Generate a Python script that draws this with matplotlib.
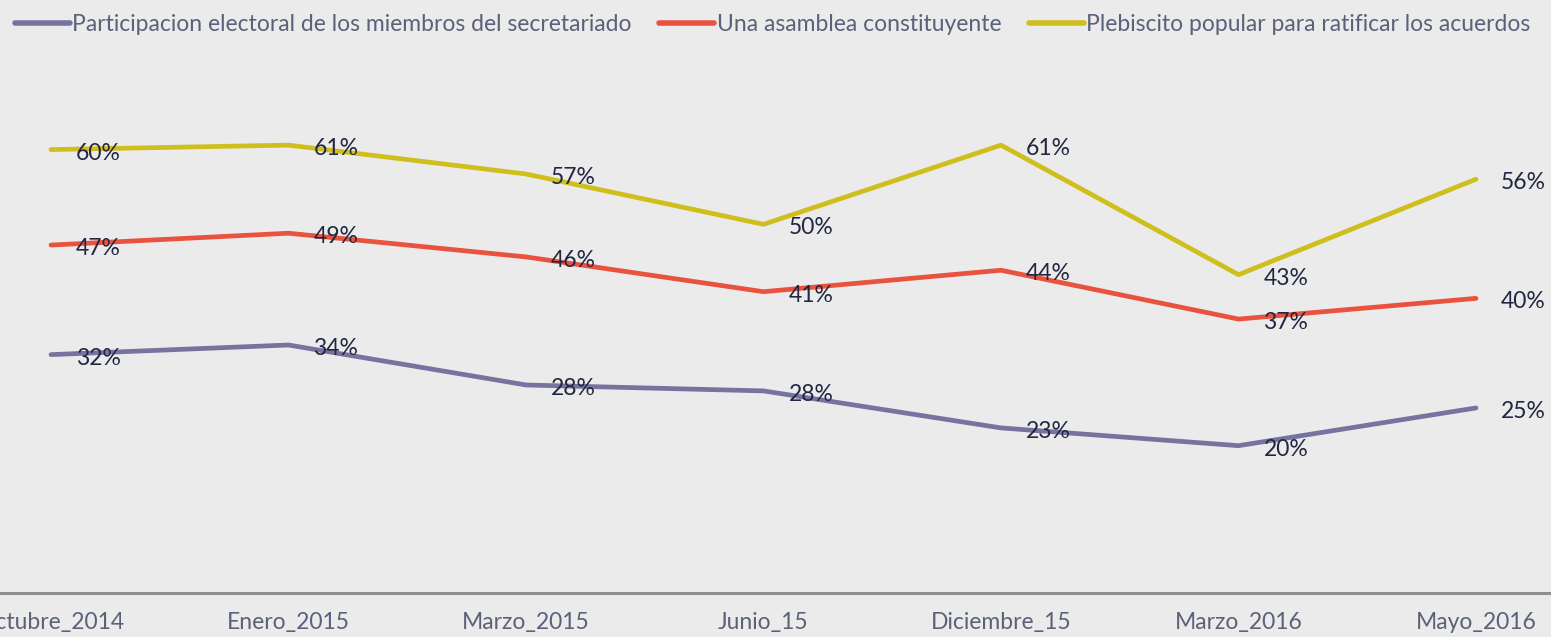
import matplotlib
matplotlib.use("Agg")
import matplotlib.pyplot as plt

# datos de la encuesta
periodos = ["Octubre_2014", "Enero_2015", "Marzo_2015", "Junio_15",
            "Diciembre_15", "Marzo_2016", "Mayo_2016"]
secretariado = [32, 34, 28, 28, 23, 20, 25]
asamblea = [47, 49, 46, 41, 44, 37, 40]
plebiscito = [60, 61, 57, 50, 61, 43, 56]

# valores de la linea (ligeramente distintos del redondeo de la etiqueta)
sec_linea = [32.5, 33.8, 28.4, 27.6, 22.6, 20.2, 25.3]
asa_linea = [47.3, 48.9, 45.7, 41.0, 43.9, 37.3, 40.1]
ple_linea = [60.2, 60.8, 56.9, 50.1, 60.8, 43.3, 56.2]

series = [
    ("Participacion electoral de los miembros del secretariado", sec_linea, secretariado, "#76749E"),
    ("Una asamblea constituyente", asa_linea, asamblea, "#E9523F"),
    ("Plebiscito popular para ratificar los acuerdos", ple_linea, plebiscito, "#CFBF1D"),
]

FS = 16.5
W, H = 1551, 637
fig = plt.figure(figsize=(W / 100, H / 100), dpi=100)
fig.patch.set_facecolor("#EBEBEB")
ax = fig.add_axes([0, 44 / H, 1, (593 - 40) / H])
ax.set_facecolor("#EBEBEB")

x = list(range(len(periodos)))
for nombre, linea, etiquetas, color in series:
    ax.plot(x, linea, color=color, lw=3.4, solid_capstyle="round", label=nombre)
    for xi, yi, v in zip(x, linea, etiquetas):
        ax.annotate(f"{v}%", (xi, yi), xytext=(18, -2.5), textcoords="offset points",
                    ha="left", va="center", fontsize=FS, family="Lato", color="#222640")

ax.set_xlim(-51 / 237.5, 6 + 75 / 237.5)
ax.set_ylim(0.3, 75)
ax.set_yticks([])
ax.set_xticks(x)
ax.set_xticklabels(periodos, family="Lato", fontsize=FS, color="#5A6179")
ax.tick_params(axis="x", length=0, pad=14)
for s in ["top", "right", "left"]:
    ax.spines[s].set_visible(False)
ax.spines["bottom"].set_color("#8E8E8E")
ax.spines["bottom"].set_linewidth(2.2)

leg = fig.legend(loc="upper left", bbox_to_anchor=(6 / W, 1 - 5 / H), ncol=3, frameon=False,
                 handlelength=2.4, handletextpad=0.1, columnspacing=1.2,
                 prop={"family": "Lato", "size": FS}, borderaxespad=0)
for t in leg.get_texts():
    t.set_color("#5A6179")
for l in leg.get_lines():
    l.set_linewidth(4)

fig.savefig("out.png", dpi=100, facecolor=fig.get_facecolor())
